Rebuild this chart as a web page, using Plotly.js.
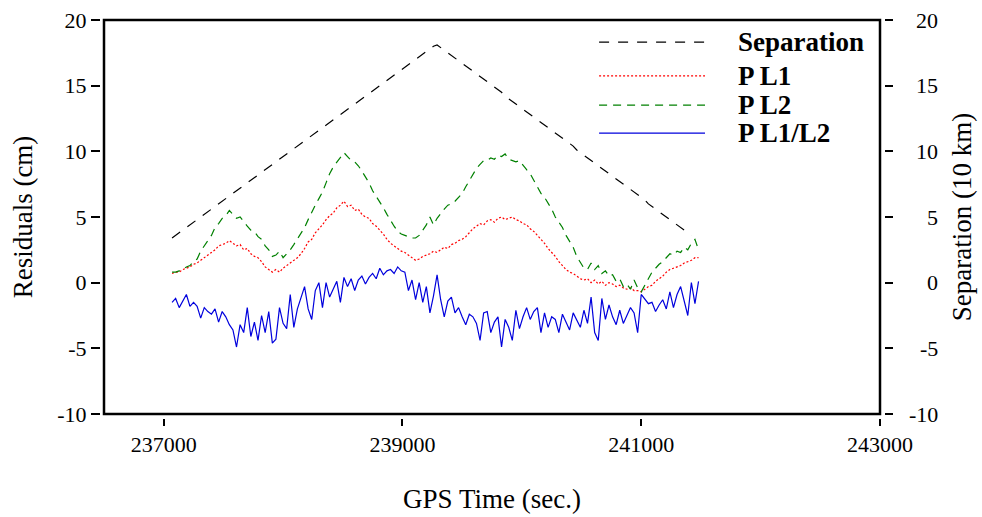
<!DOCTYPE html>
<html>
<head>
<meta charset="utf-8">
<script src="https://cdn.plot.ly/plotly-3.0.1.min.js"></script>
<style>html,body{margin:0;padding:0;background:#fff;}#chart{width:982px;height:517px;}</style>
</head>
<body>
<div id="chart"></div>
<script>
// GPS time sampling (seconds)
const timeStart = 237070;
const timeStep = 30;

const seriesNames = ["Separation", "P L1", "P L2", "P L1/L2"];

// Separation (10 km) - right axis
const separation = [
  3.4,3.6,3.8,4.0,4.2,4.4,4.6,4.8,5.0,5.2,
  5.4,5.6,5.8,6.0,6.2,6.4,6.6,6.8,7.0,7.2,
  7.4,7.6,7.8,8.0,8.2,8.4,8.6,8.8,9.0,9.2,
  9.4,9.6,9.8,10.0,10.2,10.4,10.6,10.8,11.0,11.2,
  11.4,11.6,11.8,12.0,12.2,12.4,12.6,12.8,13.0,13.2,
  13.4,13.6,13.8,14.0,14.2,14.4,14.6,14.8,15.0,15.2,
  15.4,15.6,15.8,16.0,16.2,16.4,16.6,16.8,17.0,17.2,
  17.4,17.6,17.8,18.0,18.1,
  17.9,17.7,17.5,17.3,17.1,16.9,16.7,16.5,16.3,16.1,
  15.9,15.7,15.5,15.3,15.1,14.9,14.7,14.5,14.2,14.0,
  13.8,13.6,13.4,13.2,13.0,12.8,12.6,12.4,12.2,12.0,
  11.8,11.6,11.4,11.2,11.0,10.8,10.6,10.4,10.1,9.9,
  9.7,9.5,9.3,9.1,8.9,8.7,8.5,8.3,8.1,7.9,
  7.7,7.5,7.3,7.1,6.9,6.7,6.5,6.3,6.0,5.8,
  5.6,5.4,5.2,5.0,4.8,4.6,4.4,4.2,4.0,3.8,3.6
];

// Residuals (cm)
const pL1 = [
  0.7,0.8,0.8,1.0,1.1,1.2,1.4,1.5,1.7,1.9,
  2.1,2.3,2.5,2.8,2.9,3.0,3.2,3.0,2.8,2.9,
  2.5,2.6,2.2,2.0,1.9,1.6,1.2,1.0,0.8,1.0,
  0.8,1.1,1.3,1.5,1.7,1.9,2.2,2.6,3.1,3.3,
  3.8,4.1,4.4,4.8,5.1,5.3,5.7,5.9,6.2,5.8,
  5.9,5.5,5.6,5.2,5.0,4.9,4.5,4.3,4.0,3.7,
  3.3,3.0,2.8,2.6,2.4,2.3,2.1,1.9,1.7,1.8,
  2.0,2.1,2.2,2.4,2.3,2.5,2.7,2.6,2.9,3.0,
  3.2,3.3,3.5,3.8,4.1,4.3,4.5,4.4,4.7,4.8,
  4.6,4.9,5.0,4.8,4.9,5.0,4.8,4.7,4.5,4.4,
  4.1,3.9,3.6,3.3,3.0,2.6,2.3,2.0,1.6,1.3,
  1.0,0.8,0.7,0.5,0.3,0.2,0.3,0.0,0.2,-0.1,
  0.1,-0.2,0.0,-0.1,-0.3,-0.2,-0.4,-0.5,-0.4,-0.6,
  -0.6,-0.7,-0.5,-0.3,-0.2,0.1,0.3,0.5,0.8,1.0,
  1.1,1.2,1.3,1.5,1.6,1.7,1.9,1.9
];

const pL2 = [
  0.8,0.8,0.9,1.0,1.2,1.3,1.6,1.8,2.4,2.8,
  3.2,3.6,4.2,4.5,4.9,5.1,5.5,5.2,4.9,5.0,
  4.6,4.3,4.0,3.9,3.5,3.3,2.8,2.5,2.0,2.1,
  2.4,1.9,2.2,2.5,2.9,3.3,3.8,4.2,4.8,5.4,
  5.9,6.4,6.9,7.6,8.3,8.8,9.2,9.6,9.9,9.6,
  9.3,9.2,8.9,8.5,8.1,7.6,7.0,6.6,6.1,5.7,
  5.2,4.7,4.3,3.9,3.7,3.6,3.5,3.4,3.4,3.6,
  4.0,4.4,5.0,4.4,4.9,5.3,5.6,5.9,6.0,6.2,
  6.5,6.8,7.3,7.8,8.3,8.7,9.0,9.3,9.3,9.5,
  9.4,9.7,9.6,9.8,9.4,9.3,9.2,9.3,8.9,8.6,
  8.3,7.8,7.2,6.8,6.5,6.1,5.6,5.0,4.6,4.2,
  3.6,3.2,2.7,2.0,1.5,1.1,1.0,1.5,1.0,1.3,
  0.7,0.9,0.5,0.6,0.1,0.3,-0.3,-0.1,-0.5,0.2,
  -0.4,-0.7,-0.2,0.3,0.8,1.1,1.4,1.6,1.9,2.2,
  2.1,2.4,2.3,2.7,2.5,3.0,3.3,2.5
];

const pL1L2 = [
  -1.5,-1.2,-1.9,-1.4,-0.9,-1.8,-1.5,-1.8,-2.7,-1.9,
  -2.2,-2.4,-2.0,-3.0,-2.2,-2.6,-3.2,-3.6,-4.9,-3.2,
  -3.8,-1.9,-4.1,-3.0,-4.4,-2.5,-3.8,-2.2,-4.6,-4.3,
  -1.9,-3.1,-3.5,-0.9,-3.4,-2.0,-1.1,-0.3,-2.0,-2.8,
  -0.6,0.0,-1.9,0.0,-1.1,-0.5,0.1,-1.5,0.4,-0.3,
  0.3,-0.6,0.2,0.5,-0.1,0.4,0.7,0.3,1.1,0.6,
  0.9,1.0,0.7,1.2,0.9,0.8,-0.6,0.2,-1.3,0.0,
  -1.5,-0.3,-2.3,-1.0,0.6,-1.3,-2.6,-1.4,-1.1,-2.3,
  -1.9,-2.6,-3.2,-2.4,-2.6,-3.1,-4.4,-2.3,-2.2,-3.8,
  -3.0,-2.6,-4.9,-2.8,-3.4,-4.4,-2.1,-3.5,-2.6,-1.9,
  -2.8,-2.2,-1.9,-3.8,-2.3,-3.4,-2.6,-2.8,-3.8,-2.4,
  -3.0,-3.6,-2.3,-2.9,-3.4,-2.1,-3.1,-1.1,-3.8,-4.4,
  -1.2,-2.8,-1.7,-2.6,-3.2,-2.1,-3.1,-2.5,-1.9,-2.3,
  -3.8,-0.9,-1.3,-1.6,-1.5,-2.2,-1.7,-1.3,-2.0,-0.7,
  -1.9,-0.9,-0.3,-1.3,-2.5,0.0,-1.6,0.1
];

// Axis ticks
const xTickVals = [237000, 239000, 241000, 243000];
const xTickText = ["237000", "239000", "241000", "243000"];
const yTickVals = [-10, -5, 0, 5, 10, 15, 20];
const yTickText = ["-10", "-5", "0", "5", "10", "15", "20"];

const serif = "Liberation Serif, Times New Roman, serif";
const colors = ["#000000", "#ff0000", "#008000", "#0000dd"];
const dashes = ["10px,9px", "2px,2px", "8px,6px", "solid"];

const traces = [
  {x0: timeStart, dx: timeStep, y: separation, yaxis: "y2", name: seriesNames[0]},
  {x0: timeStart, dx: timeStep, y: pL1, name: seriesNames[1]},
  {x0: timeStart, dx: timeStep, y: pL2, name: seriesNames[2]},
  {x0: timeStart, dx: timeStep, y: pL1L2, name: seriesNames[3]}
].map((t, i) => Object.assign(t, {
  type: "scatter", mode: "lines", showlegend: false, hoverinfo: "skip",
  line: {color: colors[i], width: 1.2, dash: dashes[i]}
}));

// Custom legend (long line samples)
const legendY = [0.944, 0.858, 0.784, 0.713];
const shapes = [{
  type: "rect", xref: "x domain", yref: "y domain", x0: 0, x1: 1, y0: 0, y1: 1,
  line: {color: "#000", width: 2.5}, layer: "above"
}];
const annotations = [];
seriesNames.forEach((n, i) => {
  shapes.push({type: "line", xref: "x domain", yref: "y domain",
    x0: 0.638, x1: 0.7745, y0: legendY[i], y1: legendY[i],
    line: {color: colors[i], width: 1.2, dash: dashes[i]}});
  annotations.push({xref: "x domain", yref: "y domain", x: 0.815, y: legendY[i],
    xanchor: "left", yanchor: "middle", showarrow: false, text: n,
    font: {family: serif, size: 27, color: "#000", weight: "bold"}});
});
// right-aligned right-axis tick labels
yTickVals.forEach((v, i) => {
  annotations.push({xref: "paper", yref: "y2", x: 1.0714, y: v, xanchor: "right",
    yanchor: "middle", showarrow: false, text: yTickText[i],
    font: {family: serif, size: 22, color: "#000"}});
});

const layout = {
  width: 982, height: 517,
  margin: {l: 100, r: 98, t: 20, b: 99, pad: 0},
  paper_bgcolor: "#fff", plot_bgcolor: "#fff",
  font: {family: serif, size: 22, color: "#000"},
  xaxis: {
    domain: [4/784, 780/784], anchor: "free", position: 0,
    range: [236500, 243000], showgrid: false, zeroline: false, showline: false,
    ticks: "outside", ticklen: 7, tickwidth: 2, tickcolor: "#000",
    tickmode: "array", tickvals: xTickVals, ticktext: xTickText,
    tickfont: {family: serif, size: 22},
    title: {text: "GPS Time (sec.)", font: {family: serif, size: 27}, standoff: 32}
  },
  yaxis: {
    domain: [4/398, 1], anchor: "free", position: 0,
    range: [-10, 20], showgrid: false, zeroline: false, showline: false,
    ticks: "outside", ticklen: 9, tickwidth: 2, tickcolor: "#000",
    tickmode: "array", tickvals: yTickVals, ticktext: yTickText,
    tickfont: {family: serif, size: 22},
    title: {text: "Residuals (cm)", font: {family: serif, size: 27}, standoff: 15}
  },
  yaxis2: {
    overlaying: "y", side: "right", anchor: "free", position: 1,
    range: [-10, 20], showgrid: false, zeroline: false, showline: false,
    ticks: "outside", ticklen: 8, tickwidth: 2, tickcolor: "#000",
    tickmode: "array", tickvals: yTickVals, showticklabels: false,
    title: {text: "Separation (10 km)", font: {family: serif, size: 27}, standoff: 60}
  },
  shapes: shapes,
  annotations: annotations
};

Plotly.newPlot("chart", traces, layout, {staticPlot: true, displayModeBar: false});
</script>
</body>
</html>
